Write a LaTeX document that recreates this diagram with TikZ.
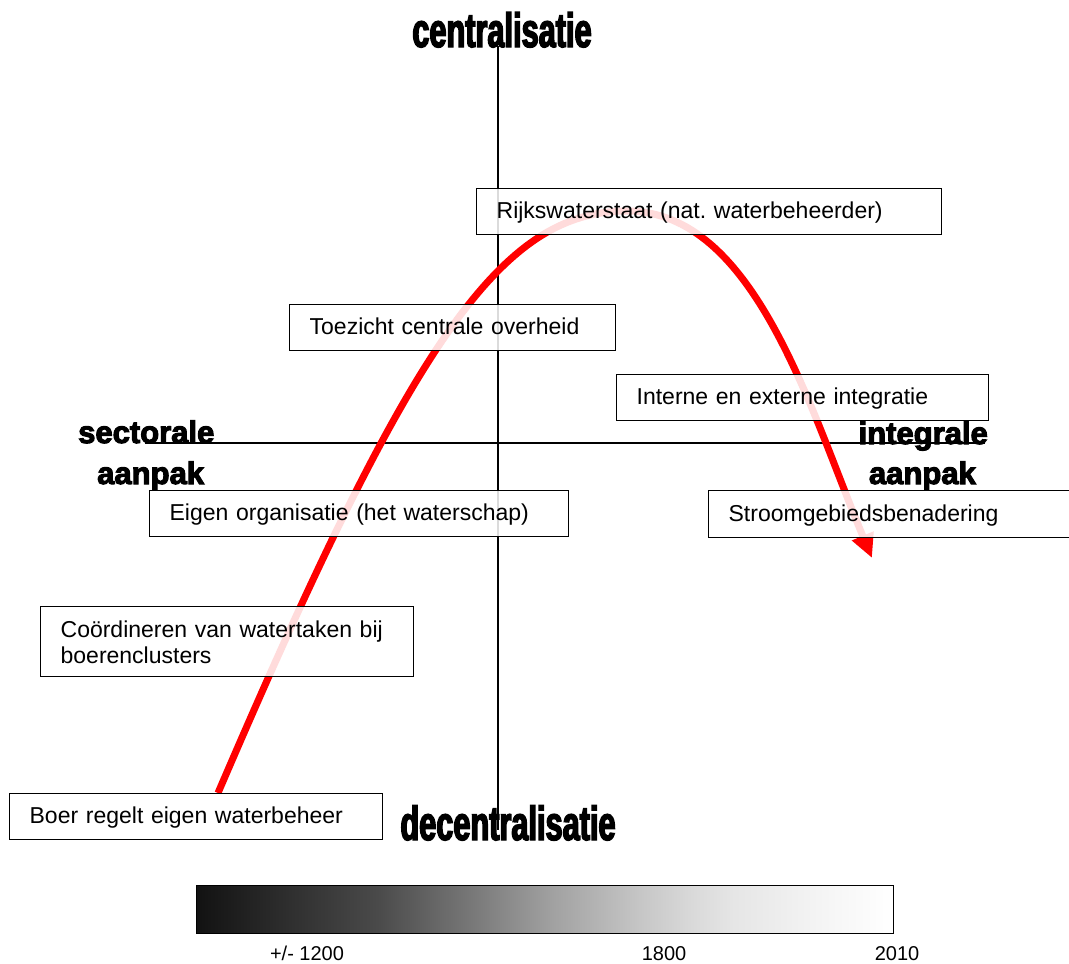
\documentclass[tikz,border=0pt]{standalone}
\usepackage{fontspec}
\setmainfont{Liberation Sans}
\newfontfamily\heavyfont[FakeStretch=0.64,FakeBold=3]{Liberation Sans}
\newfontfamily\blackfont[FakeBold=3.5]{Liberation Sans}
\usetikzlibrary{arrows.meta}
\pgfdeclarehorizontalshading{timeshade}{100bp}{color(0bp)=(black!93); color(25bp)=(black!93);
  color(31.5bp)=(black!82); color(38bp)=(black!71); color(44bp)=(black!55);
  color(50.5bp)=(black!37); color(57bp)=(black!22); color(60.5bp)=(black!15);
  color(63.5bp)=(black!10); color(70bp)=(black!4); color(75bp)=(white); color(100bp)=(white)}
\begin{document}
\frenchspacing
\begin{tikzpicture}[x=1pt,y=-1pt,
  box/.style={draw, line width=1.3pt, fill=white, fill opacity=0.86, text opacity=1,
    anchor=north west, inner xsep=20pt, inner ysep=0pt, align=left,
    font=\fontsize{23}{26}\selectfont},
  oneline/.style={text height=17pt, text depth=3pt},
  bigtitle/.style={font=\heavyfont\bfseries\fontsize{48}{50}\selectfont, inner sep=0pt},
  sidetitle/.style={font=\blackfont\bfseries\fontsize{31}{34}\selectfont, inner sep=0pt},
  axisline/.style={line width=1.2pt, black},
  timeline/.style={line width=7pt, red, -{Triangle[length=24pt,width=22pt]}},
  yearlabel/.style={font=\fontsize{20}{22}\selectfont, inner sep=0pt, anchor=base}]
\useasboundingbox (0,0) rectangle (1069,964);

% axes
\coordinate (vtop) at (498,46);
\coordinate (vbot) at (498,830);
\coordinate (hl) at (145,443);
\coordinate (hr) at (985,443);
\draw[axisline] (vtop) -- (vbot);
\draw[axisline] (hl) -- (hr);

% axis titles
\node[bigtitle, anchor=base] (cen) at (502,47) {centralisatie};
\node[bigtitle, anchor=base] (dec) at (508,840) {decentralisatie};
\node[sidetitle, anchor=base west] (sec) at (78,443) {sectorale};
\node[sidetitle, anchor=base west] (sap) at (97,484) {aanpak};
\node[sidetitle, anchor=base east] (int) at (988,444) {integrale};
\node[sidetitle, anchor=base east] (iap) at (976,484) {aanpak};

% curve
\coordinate (cstart) at (218,793);
\coordinate (cpeak) at (627,211);
\coordinate (cend) at (872,558);
\draw[timeline] (cstart) .. controls (411,343) and (500,211) .. (cpeak)
  .. controls (755,211) and (810,410) .. (cend);

% boxes
\node[box, oneline, minimum width=465pt, minimum height=46pt, text width=425pt] (rws) at (476,188) {Rijkswaterstaat (nat. waterbeheerder)};
\node[box, oneline, minimum width=326pt, minimum height=46pt, text width=286pt] (toe) at (289,304) {Toezicht centrale overheid};
\node[box, oneline, minimum width=372pt, minimum height=46pt, text width=332pt] (ine) at (616,374) {Interne en externe integratie};
\node[box, oneline, minimum width=419pt, minimum height=46pt, text width=379pt] (eig) at (149,490) {Eigen organisatie (het waterschap)};
\node[box, oneline, minimum width=365pt, minimum height=47pt, text width=325pt] (str) at (708,490) {Stroomgebiedsbenadering};
\node[box, text height=21pt, text depth=29pt, minimum width=373pt, minimum height=70pt, text width=333pt] (coo) at (40,606) {Coördineren van watertaken bij\\boerenclusters};
\node[box, oneline, minimum width=373pt, minimum height=46pt, text width=333pt] (boe) at (9,793) {Boer regelt eigen waterbeheer};

% time bar
\shade[shading=timeshade] (196,885) rectangle (893,933);
\node[draw, line width=1.3pt, anchor=north west, minimum width=697pt, minimum height=48pt, inner sep=0pt] (bar) at (196,885) {};
\node[yearlabel] (y1) at (307,960) {+/- 1200};
\node[yearlabel] (y2) at (664,960) {1800};
\node[yearlabel] (y3) at (897,960) {2010};
\end{tikzpicture}
\end{document}
